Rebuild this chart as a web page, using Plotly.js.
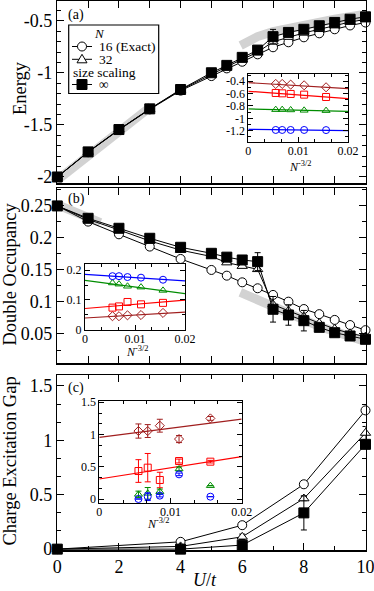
<!DOCTYPE html>
<html><head><meta charset="utf-8">
<script src="https://cdn.plot.ly/plotly-3.0.1.min.js"></script>
<style>html,body{margin:0;padding:0;background:#fff;}#g{width:374px;height:591px;}</style>
</head><body><div id="g"></div>
<script>
// ---------- data ----------
const U = [0,1,2,3,4,5,5.5,6,6.5,7,7.5,8,8.5,9,9.5,10];
const E16  = [-2,-1.762,-1.548,-1.35,-1.17,-1.03,-0.956,-0.892,-0.821,-0.753,-0.705,-0.657,-0.619,-0.580,-0.543,-0.515];
const E32  = [-2,-1.760,-1.545,-1.347,-1.163,-1.01,-0.94,-0.87,-0.80,-0.70,-0.655,-0.615,-0.58,-0.545,-0.51,-0.485];
const Einf = [-2,-1.759,-1.544,-1.345,-1.159,-0.998,-0.927,-0.850,-0.780,-0.651,-0.610,-0.580,-0.546,-0.514,-0.483,-0.460];
const EinfErr = [0,0,0,0,0,0,0,0,0,0.07,0,0,0,0,0,0];
const bandA1_U = [0,1,2,3.05], bandA1_E = [-2.03,-1.795,-1.56,-1.32];
const bandA2_U = [5.95,6.5,7,7.5,8,8.5,9,9.5,9.85];
const bandA2_E = [-0.735,-0.65,-0.603,-0.568,-0.538,-0.51,-0.484,-0.46,-0.443];

const D16  = [0.25,0.2255,0.2057,0.1865,0.1672,0.150,0.1411,0.1307,0.1214,0.111,0.1005,0.089,0.081,0.072,0.064,0.056];
const D32  = [0.25,0.229,0.2125,0.1953,0.181,0.171,0.1615,0.156,0.151,0.096,0.086,0.077,0.067,0.058,0.051,0.046];
const Dinf = [0.25,0.2307,0.2151,0.1995,0.1854,0.176,0.170,0.1656,0.163,0.0886,0.0797,0.0708,0.0604,0.052,0.0469,0.0417];
const DinfErr = [0,0,0,0,0,0.003,0.003,0.003,0.014,0.020,0.016,0.016,0.003,0.003,0.002,0.002];
const bandB1_U = [0,1.4], bandB1_D = [0.252,0.224];
const bandB2_U = [5.94,6.5,7,7.5,8,8.5,9,9.5,9.9];
const bandB2_D = [0.115,0.103,0.093,0.082,0.072,0.062,0.054,0.046,0.040];

const Uc = [0,4,6,8,10];
const G16  = [0,0.067,0.22,0.596,1.275];
const G32  = [0,0.025,0.113,0.465,1.067];
const G32Err = [0,0,0.025,0.02,0.06];
const Ginf = [0,0,0.037,0.333,0.963];
const GinfErr = [0,0,0.01,0.157,0.03];

// insets: x = N^-3/2
const xN = [0.0055,0.0068,0.0085,0.0112,0.0156];
const fitX = [0,0.02];
const EA_blue  = [-1.188,-1.188,-1.188,-1.188,-1.190], EA_blueFit  = [-1.178,-1.199];
const EA_green = [-0.859,-0.859,-0.864,-0.870,-0.875], EA_greenFit = [-0.848,-0.886];
const EA_red   = [-0.589,-0.595,-0.605,-0.616,-0.654], EA_redFit   = [-0.562,-0.681];
const EA_dred  = [-0.443,-0.443,-0.454,-0.465,-0.497], EA_dredFit  = [-0.422,-0.519];

const DB_blue  = [0.180,0.180,0.177,0.175,0.168], DB_blueFit  = [0.186,0.164];
const DB_green = [0.157,0.153,0.146,0.143,0.132], DB_greenFit = [0.166,0.121];
const DB_red   = [0.074,0.078,0.093,0.085,0.090], DB_redFit   = [0.071,0.099];
const DB_dred  = [0.045,0.045,0.048,0.049,0.056], DB_dredFit  = [0.039,0.059];

const GC_dred  = [1.054,1.054,1.137,0.93,1.25], GC_dredErr = [0.11,0.10,0.10,0.055,0.03], GC_dredFit = [0.956,1.24];
const GC_red   = [0.434,0.486,0.295,0.589,0.579], GC_redErr = [0.176,0.22,0.12,0.03,0.02], GC_redFit = [0.31,0.656];
const GC_green = [0.072,0.088,0.114,0.465,0.207], GC_greenErr = [0.05,0.09,0.04,0.03,0];
const GC_blue  = [0.0,0.036,0.052,0.382,0.036], GC_blueErr = [0,0.06,0.02,0.02,0];

const ytA_vals = [-2,-1.5,-1,-0.5], ytA_text = ['-2','-1.5','-1','-0.5'];
const ytIA_vals = [-1.2,-1,-0.8,-0.6,-0.4], ytIA_text = ['-1.2','-1','-0.8','-0.6','-0.4'];

// ---------- helpers ----------
const F = 'Liberation Serif, Times New Roman, serif';
const W = 374, H = 591;
const X = p => p / W, Y = p => 1 - p / H;
const BLUE='#0000ff', GREEN='#008c00', RED='#ff0000', DRED='#a01e1e', GRAY='#d2d2d2';

const traces = [];
function band(x,y,xa,ya){traces.push({x:x,y:y,xaxis:xa,yaxis:ya,mode:'lines',line:{color:GRAY,width:9},showlegend:false,hoverinfo:'skip',cliponaxis:false});}
function main(x,y,xa,ya,sym,size,fill,err){
  const t={x:x,y:y,xaxis:xa,yaxis:ya,mode:'lines+markers',showlegend:false,cliponaxis:false,
    line:{color:'black',width:1},
    marker:{symbol:sym,size:size,color:fill,line:{color:'black',width:1}}};
  if(err) t.error_y={type:'data',array:err,visible:true,color:'black',thickness:1,width:3};
  traces.push(t);
}
function fit(y,xa,ya,c){traces.push({x:fitX,y:y,xaxis:xa,yaxis:ya,mode:'lines',line:{color:c,width:1.2},showlegend:false,cliponaxis:true});}
function pts(y,xa,ya,sym,c,err){
  const t={x:xN,y:y,xaxis:xa,yaxis:ya,mode:'markers',showlegend:false,cliponaxis:false,
    marker:{symbol:sym,size:7,color:'rgba(255,255,255,0)',line:{color:c,width:1}}};
  if(err) t.error_y={type:'data',array:err,visible:true,color:c,thickness:1,width:3};
  traces.push(t);
}

// panel (a)
band(bandA1_U,bandA1_E,'x','y'); band(bandA2_U,bandA2_E,'x','y');
main(U,E16,'x','y','circle',9,'white');
main(U,E32,'x','y','triangle-up',9,'white');
main(U,Einf,'x','y','square',10,'black',EinfErr);
// panel (b)
band(bandB1_U,bandB1_D,'x2','y2'); band(bandB2_U,bandB2_D,'x2','y2');
main(U,D16,'x2','y2','circle',9,'white');
main(U,D32,'x2','y2','triangle-up',9,'white');
main(U,Dinf,'x2','y2','square',10,'black',DinfErr);
// panel (c)
main(Uc,G16,'x3','y3','circle',9,'white');
main(Uc,G32,'x3','y3','triangle-up',9,'white',G32Err);
main(Uc,Ginf,'x3','y3','square',10,'black',GinfErr);
// inset a
fit(EA_dredFit,'x4','y4',DRED); fit(EA_redFit,'x4','y4',RED); fit(EA_greenFit,'x4','y4',GREEN); fit(EA_blueFit,'x4','y4',BLUE);
pts(EA_dred,'x4','y4','diamond',DRED); pts(EA_red,'x4','y4','square',RED);
pts(EA_green,'x4','y4','triangle-up',GREEN); pts(EA_blue,'x4','y4','circle',BLUE);
// inset b
fit(DB_dredFit,'x5','y5',DRED); fit(DB_redFit,'x5','y5',RED); fit(DB_greenFit,'x5','y5',GREEN); fit(DB_blueFit,'x5','y5',BLUE);
pts(DB_dred,'x5','y5','diamond',DRED); pts(DB_red,'x5','y5','square',RED);
pts(DB_green,'x5','y5','triangle-up',GREEN); pts(DB_blue,'x5','y5','circle',BLUE);
// inset c
fit(GC_dredFit,'x6','y6',DRED); fit(GC_redFit,'x6','y6',RED);
pts(GC_dred,'x6','y6','diamond',DRED,GC_dredErr); pts(GC_red,'x6','y6','square',RED,GC_redErr);
pts(GC_green,'x6','y6','triangle-up',GREEN,GC_greenErr); pts(GC_blue,'x6','y6','circle',BLUE,GC_blueErr);

function axis(o, inset){
  const a = {showline:true,linecolor:'black',linewidth:inset?1:1.5,mirror:'allticks',ticks:'inside',
    ticklen:inset?5:7,tickwidth:1,tickcolor:'black',showgrid:false,zeroline:false,ticklabeloverflow:'allow',
    tickfont:{family:F,size:inset?12:18,color:'black'},fixedrange:true};
  return Object.assign(a,o);
}
function minor(d, inset){return {ticks:'inside',tickmode:'linear',tick0:0,dtick:d,ticklen:inset?3:4,tickwidth:1,tickcolor:'black',showgrid:false};}

const xd = [X(57.3),X(365.5)];
const layout = {
  width:W,height:H,margin:{l:0,r:0,t:0,b:0},paper_bgcolor:'white',plot_bgcolor:'white',showlegend:false,
  font:{family:F,color:'black'},
  xaxis: axis({domain:xd,range:[0,10],anchor:'y',tickmode:'linear',tick0:0,dtick:1,showticklabels:false}),
  yaxis: axis({domain:[Y(183),Y(1)],range:[-2.058,-0.308],anchor:'x',tickmode:'array',tickvals:ytA_vals,ticktext:ytA_text,minor:minor(0.1)}),
  xaxis2: axis({domain:xd,range:[0,10],anchor:'y2',tickmode:'linear',tick0:0,dtick:1,showticklabels:false}),
  yaxis2: axis({domain:[Y(363),Y(188)],range:[0.0047,0.278],anchor:'x2',tickmode:'linear',tick0:0,dtick:0.05,minor:minor(0.025)}),
  xaxis3: axis({domain:xd,range:[0,10],anchor:'y3',tickmode:'linear',tick0:0,dtick:2,minor:minor(1)}),
  yaxis3: axis({domain:[Y(550),Y(375)],range:[-0.008,1.6],anchor:'x3',tickmode:'linear',tick0:0,dtick:0.5,minor:minor(0.5/3)}),
  xaxis4: axis({domain:[X(248.3),X(348)],range:[0,0.02],anchor:'y4',tickmode:'linear',tick0:0,dtick:0.01,ticklabelstandoff:-2,minor:minor(0.01/3,1)},1),
  yaxis4: axis({domain:[Y(142),Y(74)],range:[-1.383,-0.282],anchor:'x4',tickmode:'array',tickvals:ytIA_vals,ticktext:ytIA_text,minor:minor(0.1,1)},1),
  xaxis5: axis({domain:[X(85),X(185)],range:[0,0.02],anchor:'y5',tickmode:'linear',tick0:0,dtick:0.01,ticklabelstandoff:-2,minor:minor(0.01/3,1)},1),
  yaxis5: axis({domain:[Y(330),Y(264.3)],range:[-0.0015,0.22],anchor:'x5',tickmode:'linear',tick0:0,dtick:0.1,minor:minor(0.05,1)},1),
  xaxis6: axis({domain:[X(99.3),X(241.7)],range:[0,0.02],anchor:'y6',tickmode:'linear',tick0:0,dtick:0.01,ticklabelstandoff:-2,minor:minor(0.01/3,1)},1),
  yaxis6: axis({domain:[Y(503),Y(401)],range:[-0.062,1.52],anchor:'x6',tickmode:'linear',tick0:0,dtick:0.5,minor:minor(0.5/3,1)},1),
  annotations:[],shapes:[]
};

function txt(s,x,y,size,extra){
  layout.annotations.push(Object.assign({text:s,xref:'paper',yref:'paper',x:X(x),y:Y(y),showarrow:false,
    xanchor:'center',yanchor:'middle',font:{family:F,size:size,color:'black'}},extra||{}));
}
txt('(a)',76,15,14); txt('(b)',76,199,14); txt('(c)',76,388,14);
txt('Energy',20.5,88.5,18.5,{textangle:-90});
txt('Double Occupancy',9.5,274,18.5,{textangle:-90});
txt('Charge Excitation Gap',9.5,461,18.5,{textangle:-90});
txt('<i>U</i>/<i>t</i>',205,580,18);
txt('<i>N</i><sup>-3/2</sup>',300,166,12);
txt('<i>N</i><sup>-3/2</sup>',137,351,12);
txt('<i>N</i><sup>-3/2</sup>',158,523,12);

// manual legend
const S = layout.shapes;
S.push({type:'rect',xref:'paper',yref:'paper',x0:X(68.7),x1:X(158.7),y0:Y(93.5),y1:Y(25),line:{color:'black',width:1.2},fillcolor:'white',layer:'above'});
const rows=[46.5,59.3,84.5];
rows.forEach(r=>S.push({type:'line',xref:'paper',yref:'paper',x0:X(72),x1:X(92),y0:Y(r),y1:Y(r),line:{color:'black',width:1}}));
S.push({type:'circle',xref:'paper',yref:'paper',x0:X(77.5),x1:X(86.5),y0:Y(rows[0]+4.5),y1:Y(rows[0]-4.5),line:{color:'black',width:1},fillcolor:'white'});
S.push({type:'path',xref:'paper',yref:'paper',path:`M ${X(82)},${Y(rows[1]-5)} L ${X(77)},${Y(rows[1]+3.5)} L ${X(87)},${Y(rows[1]+3.5)} Z`,line:{color:'black',width:1},fillcolor:'white'});
S.push({type:'rect',xref:'paper',yref:'paper',x0:X(77),x1:X(87),y0:Y(rows[2]+5),y1:Y(rows[2]-5),line:{color:'black',width:1},fillcolor:'black'});
txt('<i>N</i>',99.5,33.5,13);
txt('16 (Exact)',97,rows[0],13.5,{xanchor:'left'});
txt('32',97,rows[1],13.5,{xanchor:'left'});
txt('size scaling',71,72,13.5,{xanchor:'left'});
txt('\u221e',97,rows[2],13.5,{xanchor:'left'});

Plotly.newPlot('g',traces,layout,{staticPlot:true});
</script></body></html>
